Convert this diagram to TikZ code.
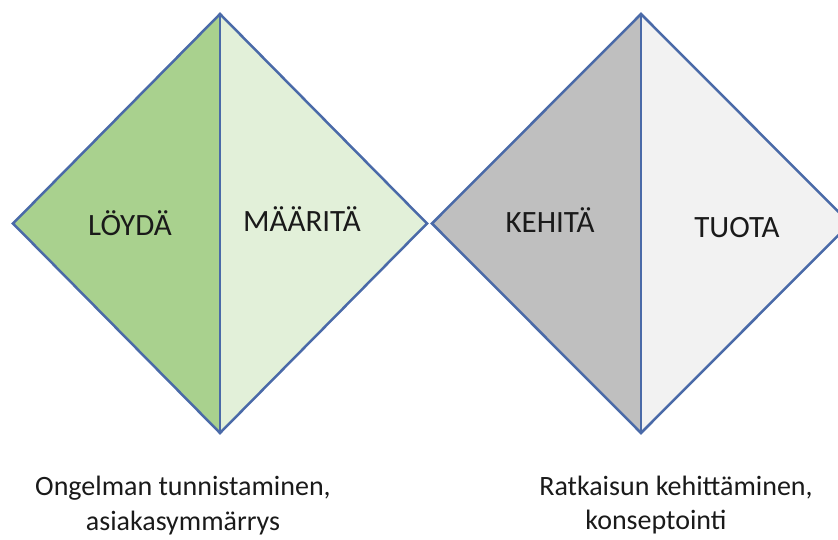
\documentclass[tikz,border=0pt]{standalone}
\usepackage{fontspec}
\setmainfont{Carlito}
\definecolor{edge}{HTML}{4A6AA8}
\definecolor{gdark}{HTML}{A9D18E}
\definecolor{glight}{HTML}{E2F0D9}
\definecolor{ydark}{HTML}{BFBFBF}
\definecolor{ylight}{HTML}{F2F2F2}
\definecolor{txt}{HTML}{1A1A1A}
\tikzset{
  outline/.style={draw=edge, line width=2.5pt, line join=miter},
  label/.style={anchor=base, inner sep=0pt, text=txt, font=\fontsize{31}{36}\selectfont},
  caption/.style={anchor=base, inner sep=0pt, text=txt, font=\fontsize{28}{33}\selectfont}
}
\begin{document}
\begin{tikzpicture}[x=1pt,y=-1pt]
\useasboundingbox (0,0) rectangle (838,540);
\clip (0,0) rectangle (838,540);
% left diamond
\coordinate (lt) at (220,14);
\coordinate (ll) at (13,223.5);
\coordinate (lb) at (220,433);
\coordinate (lr) at (427,223.5);
\fill[gdark] (lt) -- (ll) -- (lb) -- cycle;
\fill[glight] (lt) -- (lr) -- (lb) -- cycle;
\draw[outline] (lt) -- (ll) -- (lb) -- (lr) -- cycle;
\draw[outline] (lt) -- (lb);
% right diamond
\coordinate (rt) at (641,14);
\coordinate (rl) at (432,223.5);
\coordinate (rb) at (641,433);
\coordinate (rr) at (850,223.5);
\fill[ydark] (rt) -- (rl) -- (rb) -- cycle;
\fill[ylight] (rt) -- (rr) -- (rb) -- cycle;
\draw[outline] (rt) -- (rl) -- (rb) -- (rr) -- cycle;
\draw[outline] (rt) -- (rb);
% labels
\node[label] (loyda) at (130,236) {LÖYDÄ};
\node[label] (maarita) at (302,232) {MÄÄRITÄ};
\node[label] (kehita) at (550,233) {KEHITÄ};
\node[label] (tuota) at (737,237) {TUOTA};
% captions
\node[caption] (cap1a) at (183,495) {Ongelman tunnistaminen,};
\node[caption] (cap1b) at (183,530) {asiakasymmärrys};
\node[caption] (cap2a) at (676,495) {Ratkaisun kehittäminen,};
\node[caption] (cap2b) at (656,529) {konseptointi};
\end{tikzpicture}
\end{document}
